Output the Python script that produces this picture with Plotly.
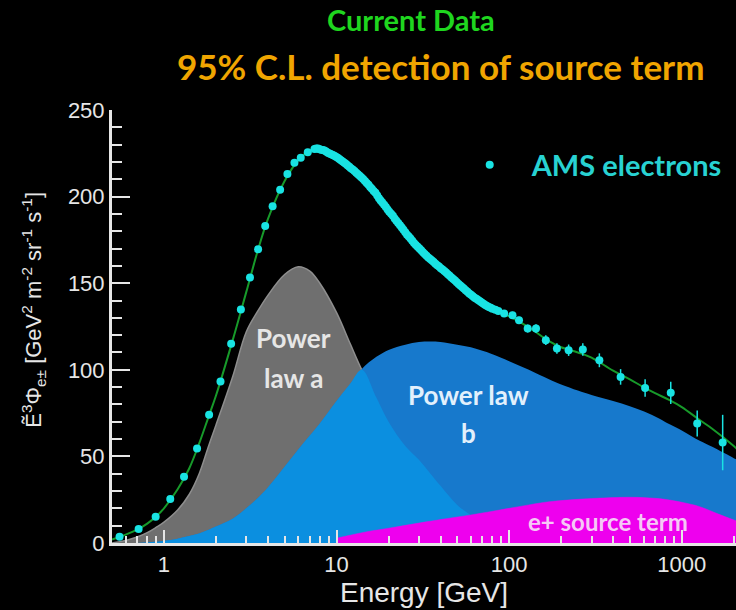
import numpy as np
import plotly.graph_objects as go

# ---------------- data ----------------
ams_energy = [0.553, 0.713, 0.895, 1.088, 1.307, 1.555, 1.826, 2.126, 2.45, 2.79,
              3.15, 3.51, 3.86, 4.26, 4.71, 5.19, 5.70, 6.20, 6.81,
              7.45, 7.62, 7.8, 7.97, 8.15, 8.32, 8.5, 8.7, 8.9, 9.1,
              9.3, 9.5, 9.7, 9.92, 10.15, 10.37, 10.6, 10.85, 11.1, 11.35,
              11.6, 11.85, 12.1, 12.4, 12.7, 13.0, 13.3, 13.6, 13.9, 14.25,
              14.6, 14.95, 15.3, 15.65, 16.0, 16.4, 16.8, 17.2, 17.6, 18.0,
              18.4, 18.85, 19.3, 19.75, 20.2, 20.7, 21.2, 21.7, 22.2, 22.75,
              23.3, 23.85, 24.4, 25.0, 25.6, 26.2, 26.8, 27.45, 28.1, 28.8,
              29.5, 30.2, 30.9, 31.65, 32.4, 33.2, 34.0, 34.85, 35.7, 36.55,
              37.4, 38.3, 39.2, 40.15, 41.1, 42.1, 43.1, 44.15, 45.2, 46.3,
              47.4, 48.55, 49.7, 50.9, 52.1, 53.35, 54.6, 55.95, 57.3, 58.7,
              60.1, 61.55, 63.0, 64.55, 66.1, 67.7, 69.3, 71.0, 72.7, 74.45,
              76.2, 78.1, 80.0, 83.2, 86.5,
              93.5, 104.5, 114, 128, 143, 163, 189, 221, 267, 333,
              442, 613, 863, 1228, 1725]
ams_flux = [3.6, 8.1, 15.2, 25.4, 38.3, 54.6, 74.1, 93.3, 115.0, 134.8,
            153.3, 169.6, 183.0, 194.4, 204.0, 213.0, 219.5, 222.4, 225.6,
            227.5, 227.7, 227.8, 227.4, 227.0, 226.9, 226.6, 226.0, 225.3, 224.9,
            224.5, 224.0, 223.6, 223.0, 222.4, 221.7, 221.0, 220.3, 219.6, 218.8,
            218.0, 217.2, 216.3, 215.6, 214.8, 213.8, 212.9, 212.0, 211.2, 210.1,
            209.0, 207.9, 206.8, 205.6, 204.5, 203.3, 202.2, 200.6, 199.0, 197.8,
            196.6, 195.3, 194.0, 192.6, 191.3, 190.1, 188.9, 187.4, 186.0, 184.7,
            183.4, 182.1, 180.8, 179.4, 178.0, 176.9, 175.8, 174.5, 173.2, 172.1,
            171.0, 170.0, 169.0, 167.9, 166.9, 165.9, 164.9, 164.0, 163.1, 162.2,
            161.3, 160.4, 159.6, 158.7, 157.9, 157.0, 156.2, 155.2, 154.3, 153.3,
            152.4, 151.5, 150.6, 149.6, 148.7, 147.8, 147.0, 146.0, 145.0, 144.1,
            143.3, 142.4, 141.6, 141.0, 140.3, 139.6, 138.9, 138.1, 137.4, 136.8,
            136.3, 135.8, 135.3, 134.6, 134.0,
            132.5, 131.5, 128.6, 123.8, 123.8, 117.1, 112.3, 111.3, 111.7, 105.5,
            95.9, 89.5, 86.7, 69.0, 58.0]
ams_err = [0.3, 0.4, 0.5, 0.6, 0.7, 0.8, 0.9, 1.0, 1.0, 1.0,
           1.0, 1.0, 1.0, 1.0, 1.0, 1.0, 1.0, 1.0, 1.0,
           1.0, 1.0, 1.0, 1.0, 1.0, 1.0, 1.0, 1.0, 1.0, 1.0,
           1.0, 1.0, 1.0, 1.0, 1.0, 1.0, 1.0, 1.0, 1.0, 1.0,
           1.0, 1.0, 1.0, 1.0, 1.0, 1.0, 1.0, 1.0, 1.0, 1.0,
           1.0, 1.0, 1.0, 1.0, 1.0, 1.0, 1.0, 1.0, 1.0, 1.0,
           1.0, 1.0, 1.0, 1.0, 1.0, 1.0, 1.0, 1.0, 1.0, 1.0,
           1.0, 1.0, 1.0, 1.0, 1.0, 1.0, 1.0, 1.0, 1.0, 1.0,
           1.1, 1.1, 1.1, 1.1, 1.1, 1.1, 1.1, 1.1, 1.1, 1.1,
           1.2, 1.2, 1.2, 1.2, 1.2, 1.2, 1.2, 1.2, 1.2, 1.2,
           1.3, 1.3, 1.3, 1.3, 1.3, 1.3, 1.3, 1.3, 1.3, 1.3,
           1.4, 1.4, 1.4, 1.4, 1.4, 1.4, 1.4, 1.4, 1.5, 1.5,
           1.5, 1.5, 1.6, 1.6, 1.7,
           1.8, 2.0, 2.1, 2.3, 2.5, 2.8, 3.0, 3.3, 3.6, 4.0,
           4.5, 5.0, 6.4, 7.5, 16.0]
assert len(ams_energy) == len(ams_flux) == len(ams_err), (len(ams_energy), len(ams_flux), len(ams_err))

energy_grid = [0.5, 0.6, 0.7, 0.8, 0.9, 1.0, 1.2, 1.4, 1.6, 1.8,
               2.0, 2.5, 3.0, 3.5, 4.0, 5.0, 6.0, 7.0, 8.0, 10,
               12, 14, 17, 20, 25, 30, 35, 40, 50, 60,
               70, 80, 100, 130, 170, 200, 250, 300, 400, 500,
               600, 700, 850, 1000, 1270, 1500, 2000, 2100]
power_law_a = [0, 1.5, 3.5, 6, 9, 12, 19, 28, 40, 55,
               68, 96, 122, 134, 143, 155, 159.5, 157, 150, 133,
               115, 100, 84, 70, 56, 48, 40, 33, 22, 16,
               12, 9, 5.5, 3, 1.5, 1, 0.5, 0.2, 0, 0,
               0, 0, 0, 0, 0, 0, 0, 0]
power_law_b = [0, 0, 0, 0.3, 0.7, 1.2, 2.5, 4, 5.5, 7.5,
               9.5, 14, 20, 26, 32, 44, 54, 62, 69, 82,
               92, 100.5, 107.5, 111.5, 114.5, 116, 116.3, 116, 114.5, 113,
               111, 109, 105, 100, 94.5, 91.5, 88, 85.5, 82, 79,
               76, 73, 68.5, 65, 59, 55.5, 49, 48]
total_fit = [2, 4.8, 7.7, 11.2, 15.3, 20, 31, 43, 57.5, 72,
             85, 117, 145, 169, 187, 209, 221, 226.5, 227, 222.3,
             216.5, 211, 200.5, 192, 179, 170.5, 163.8, 158.9, 150.4, 143.4,
             138.6, 135, 130.8, 124.5, 116.5, 113, 110, 107, 99.5, 94.5,
             90, 86.5, 82.5, 78.5, 71, 66, 56, 54]

source_energy = [10, 12, 15, 20, 30, 40, 60, 80, 100, 130,
                 170, 250, 320, 500, 700, 850, 1000, 1270, 1600, 2100]
source_term = [2.8, 4.5, 6.5, 8.5, 11.5, 13.5, 16.2, 18.3, 20, 22,
               23.8, 25.2, 25.8, 26.4, 25.8, 24.8, 23.5, 21, 17, 12.5]

x_tick_vals = [1, 10, 100, 1000]
x_tick_text = ["1", "10", "100", "1000"]
y_tick_vals = [0, 50, 100, 150, 200, 250]

# ---------------- styling ----------------
GRAY = "#6f6f6f"
BLUE_DARK = "#1779cc"
BLUE_LIGHT = "#0b8fe0"
MAGENTA = "#ee00ee"
CYAN = "#19e3e3"
FIT_GREEN = "#179a2a"
AXIS = "#e6e6e6"

overlap = np.minimum(np.array(power_law_a), np.array(power_law_b))

fig = go.Figure()
fig.add_trace(go.Scatter(x=energy_grid, y=power_law_a, mode="lines", fill="tozeroy",
                         line=dict(color="#8e8e8e", width=1.5, shape="spline"),
                         fillcolor=GRAY, showlegend=False, hoverinfo="skip"))
fig.add_trace(go.Scatter(x=energy_grid, y=power_law_b, mode="lines", fill="tozeroy",
                         line=dict(color=BLUE_DARK, width=0, shape="spline"),
                         fillcolor=BLUE_DARK, showlegend=False, hoverinfo="skip"))
fig.add_trace(go.Scatter(x=energy_grid, y=overlap, mode="lines", fill="tozeroy",
                         line=dict(color=BLUE_LIGHT, width=0, shape="spline"),
                         fillcolor=BLUE_LIGHT, showlegend=False, hoverinfo="skip"))
fig.add_trace(go.Scatter(x=source_energy, y=source_term, mode="lines", fill="tozeroy",
                         line=dict(color=MAGENTA, width=0.5, shape="spline"),
                         fillcolor=MAGENTA, showlegend=False, hoverinfo="skip"))
fig.add_trace(go.Scatter(x=energy_grid, y=total_fit, mode="lines",
                         line=dict(color=FIT_GREEN, width=2, shape="spline"),
                         showlegend=False, hoverinfo="skip"))
fig.add_trace(go.Scatter(x=ams_energy, y=ams_flux, mode="markers", name="AMS electrons",
                         marker=dict(color=CYAN, size=8, line=dict(width=0)),
                         error_y=dict(type="data", array=ams_err, color=CYAN,
                                      thickness=1.5, width=0),
                         showlegend=True))

fig.update_layout(
    width=736, height=610,
    margin=dict(l=112, r=0, t=110, b=67),
    paper_bgcolor="black", plot_bgcolor="black",
    font=dict(family="Liberation Sans, Arial, sans-serif", color=AXIS),
    legend=dict(x=0.538, y=0.873, xanchor="left", yanchor="middle",
                bgcolor="rgba(0,0,0,0)", itemwidth=74,
                font=dict(family="Lato", size=29, color="#28d2d2", weight="bold")),
)
fig.update_xaxes(type="log", range=[np.log10(0.5), 3.314],
                 tickvals=x_tick_vals, ticktext=x_tick_text,
                 ticks="inside", ticklen=13, tickwidth=2, tickcolor=AXIS,
                 minor=dict(ticks="inside", ticklen=7, tickwidth=2, tickcolor=AXIS,
                            dtick="D1", showgrid=False),
                 showline=True, linecolor=AXIS, linewidth=3,
                 showgrid=False, zeroline=False,
                 tickfont=dict(size=22, color=AXIS),
                 title=dict(text="Energy [GeV]", font=dict(size=28, color=AXIS), standoff=6))
fig.update_yaxes(range=[0, 250], tickvals=y_tick_vals,
                 ticks="inside", ticklen=18, tickwidth=2, tickcolor=AXIS,
                 minor=dict(ticks="inside", ticklen=10, tickwidth=2, tickcolor=AXIS,
                            dtick=10, showgrid=False),
                 showline=True, linecolor=AXIS, linewidth=3,
                 showgrid=False, zeroline=False,
                 tickfont=dict(size=22, color=AXIS))

annots = [
    dict(text="Current Data", xref="paper", yref="paper", x=0.479, y=1.208,
         font=dict(family="Lato", size=29, color="#1fd61f", weight="bold")),
    dict(text="95% C.L. detection of source term", xref="paper", yref="paper", x=0.526, y=1.102,
         font=dict(family="Lato", size=35, color="#f0a500", weight="bold")),
    dict(text="Ẽ<sup>3</sup>Φ<sub>e±</sub> [GeV<sup>2</sup> m<sup>-2</sup> sr<sup>-1</sup> s<sup>-1</sup>]",
         xref="paper", yref="paper", x=-0.127, y=0.538, textangle=-90,
         font=dict(size=22, color=AXIS)),
    dict(text="Power", xref="x", yref="y", x=0.748, y=118.4,
         font=dict(family="Lato", size=26, color="#e6e6e6", weight="bold")),
    dict(text="law a", xref="x", yref="y", x=0.748, y=95.3,
         font=dict(family="Lato", size=26, color="#e6e6e6", weight="bold")),
    dict(text="Power law", xref="x", yref="y", x=1.767, y=85.5,
         font=dict(family="Lato", size=26, color="#e2f0fc", weight="bold")),
    dict(text="b", xref="x", yref="y", x=1.767, y=63.5,
         font=dict(family="Lato", size=26, color="#e2f0fc", weight="bold")),
    dict(text="e+ source term", xref="x", yref="y", x=2.573, y=12.7,
         font=dict(family="Lato", size=24, color="#f6c8f6", weight="bold")),
]
for a in annots:
    a.update(showarrow=False, xanchor="center", yanchor="middle")
    fig.add_annotation(**a)

fig.write_html("out.html", config={"displayModeBar": False})
